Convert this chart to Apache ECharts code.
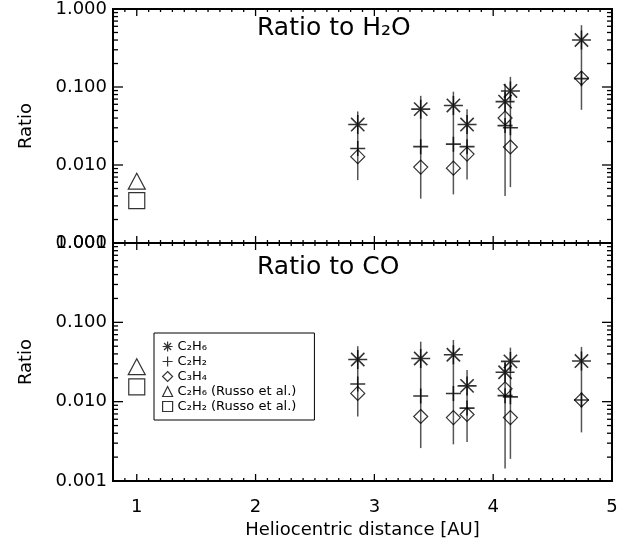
<!DOCTYPE html>
<html>
<head>
<meta charset="utf-8">
<script src="https://cdn.jsdelivr.net/npm/echarts@6/dist/echarts.min.js"></script>
<style>
  html, body { margin: 0; padding: 0; background: #fff; }
  #main { width: 622px; height: 544px; }
</style>
</head>
<body>
<div id="main"></div>
<script>
// heliocentric distances of the observations [AU]
const rh = [2.86, 3.39, 3.665, 3.78, 4.10, 4.145, 4.743];

// ratio to H2O
const h2oC2H6 = [0.033, 0.052, 0.058, 0.033, 0.065, 0.089, 0.40];
const h2oC2H2 = [0.0163, 0.0172, 0.0185, 0.0172, 0.032, 0.030, 0.128];
const h2oC3H4 = [0.0128, 0.0094, 0.0091, 0.0138, 0.040, 0.017, 0.13];
const h2oErrLo = [0.0064, 0.0037, 0.0042, 0.0065, 0.0040, 0.0052, 0.051];
const h2oErrHi = [0.0486, 0.077, 0.087, 0.052, 0.11, 0.135, 0.62];

// ratio to CO
const coC2H6 = [0.034, 0.035, 0.0390, 0.0158, 0.0235, 0.0322, 0.0325];
const coC2H2 = [0.0167, 0.0118, 0.0127, 0.0083, 0.0119, 0.0115, 0.0105];
const coC3H4 = [0.0127, 0.0065, 0.0063, 0.0069, 0.0145, 0.0063, 0.0105];
const coErrLo = [0.0065, 0.0026, 0.0029, 0.0031, 0.00144, 0.0019, 0.0041];
const coErrHi = [0.050, 0.057, 0.060, 0.025, 0.032, 0.048, 0.049];

// Russo et al. values at 1 AU
const russoX = [1.0];
const h2oRussoC2H6 = [0.0062];
const h2oRussoC2H2 = [0.0035];
const coRussoC2H6 = [0.0276];
const coRussoC2H2 = [0.0154];

const xMin = 0.8, xMax = 5;
const yMin = 0.001, yMax = 1;
const font = "'DejaVu Sans', sans-serif";

const STAR = 'path://M10,0L10,20M0,10L20,10M3,3L17,17M3,17L17,3';
const PLUS = 'path://M10,0L10,20M0,10L20,10';

const names = ['C₂H₆', 'C₂H₂', 'C₃H₄', 'C₂H₆ (Russo et al.)', 'C₂H₂ (Russo et al.)'];

function pts(xs, vals) {
  return xs.map((x, i) => [x, vals[i]]);
}

function scatter(gi, name, xs, vals, symbol, size, bw) {
  return {
    type: 'scatter', name: name, xAxisIndex: gi, yAxisIndex: gi, z: 3,
    symbol: symbol, symbolSize: size,
    itemStyle: { color: 'transparent', borderColor: '#000', borderWidth: bw },
    data: pts(xs, vals)
  };
}

function errBars(gi, lo, hi) {
  return {
    type: 'custom', xAxisIndex: gi, yAxisIndex: gi, z: 2, silent: true,
    encode: { x: 0, y: [1, 2] },
    data: rh.map((x, i) => [x, lo[i], hi[i]]),
    renderItem: function (params, api) {
      const a = api.coord([api.value(0), api.value(1)]);
      const b = api.coord([api.value(0), api.value(2)]);
      return {
        type: 'line',
        shape: { x1: a[0], y1: a[1], x2: b[0], y2: b[1] },
        style: { stroke: '#555', lineWidth: 1.5 }
      };
    }
  };
}

// inward ticks on all four sides, log minor ticks on y
function frameTicks(gi) {
  return {
    type: 'custom', xAxisIndex: gi, yAxisIndex: gi, z: 6, silent: true,
    data: [[1, 0.01]],
    renderItem: function (params, api) {
      const kids = [];
      const seg = (x1, y1, x2, y2) => ({
        type: 'line', shape: { x1: x1, y1: y1, x2: x2, y2: y2 },
        style: { stroke: '#000', lineWidth: 1.3 }
      });
      const top = api.coord([xMin, yMax])[1];
      const bot = api.coord([xMin, yMin])[1];
      const left = api.coord([xMin, yMin])[0];
      const right = api.coord([xMax, yMin])[0];
      for (let i = 8; i <= 50; i++) {
        const x = api.coord([i / 10, yMin])[0];
        const len = i % 10 === 0 ? 7 : 3;
        kids.push(seg(x, bot, x, bot - len), seg(x, top, x, top + len));
      }
      for (let d = -3; d <= 0; d++) {
        for (let m = 1; m <= 9; m++) {
          const v = m * Math.pow(10, d);
          if (v > yMax * 1.0001) break;
          const y = api.coord([xMin, v])[1];
          const len = m === 1 ? 10 : 5;
          kids.push(seg(left, y, left + len, y), seg(right, y, right - len, y));
        }
      }
      return { type: 'group', children: kids };
    }
  };
}

function panelSeries(gi, c2h6, c2h2, c3h4, lo, hi, rC2H6, rC2H2) {
  return [
    errBars(gi, lo, hi),
    scatter(gi, names[0], rh, c2h6, STAR, 19, 1.6),
    scatter(gi, names[1], rh, c2h2, PLUS, 15, 1.6),
    scatter(gi, names[2], rh, c3h4, 'diamond', [14, 14], 1.2),
    scatter(gi, names[3], russoX, rC2H6, 'triangle', [17, 16], 1.2),
    scatter(gi, names[4], russoX, rC2H2, 'rect', [16, 16], 1.2),
    frameTicks(gi)
  ];
}

const labelStyle = { fontFamily: font, fontSize: 18, color: '#000' };

function xAxis(gi, showLabels) {
  return {
    type: 'value', gridIndex: gi, min: xMin, max: xMax,
    axisLine: { show: false }, axisTick: { show: false }, splitLine: { show: false },
    axisLabel: Object.assign({
      show: showLabels, margin: 17,
      formatter: v => (Math.abs(v - Math.round(v)) < 1e-6 ? String(Math.round(v)) : '')
    }, labelStyle),
    name: showLabels ? 'Heliocentric distance [AU]' : '',
    nameLocation: 'middle', nameGap: 40,
    nameTextStyle: labelStyle
  };
}

function yAxis(gi) {
  return {
    type: 'log', logBase: 10, gridIndex: gi, min: yMin, max: yMax,
    axisLine: { show: false }, axisTick: { show: false }, splitLine: { show: false },
    minorTick: { show: false },
    axisLabel: Object.assign({ margin: 6, formatter: v => Number(v).toFixed(3) }, labelStyle),
    name: 'Ratio', nameLocation: 'middle', nameRotate: 90, nameGap: 78,
    nameTextStyle: labelStyle
  };
}

const titleStyle = { fontFamily: font, fontSize: 25, fontWeight: 'normal', color: '#000' };

const option = {
  backgroundColor: '#fff',
  animation: false,
  title: [
    { text: 'Ratio to H₂O', left: 257, top: 16, padding: 0, textStyle: titleStyle },
    { text: 'Ratio to CO', left: 257, top: 255, padding: 0, textStyle: titleStyle }
  ],
  legend: {
    orient: 'vertical', left: 154, top: 333, padding: [7, 18, 7, 8],
    borderColor: '#000', borderWidth: 1, itemGap: 2, itemWidth: 10, itemHeight: 10,
    selectedMode: false,
    itemStyle: { color: 'transparent', borderColor: '#000', borderWidth: 1.2 },
    textStyle: { fontFamily: font, fontSize: 13, lineHeight: 12, color: '#000' },
    data: [
      { name: names[0], icon: STAR },
      { name: names[1], icon: PLUS },
      { name: names[2], icon: 'diamond' },
      { name: names[3], icon: 'triangle' },
      { name: names[4], icon: 'rect' }
    ]
  },
  grid: [
    { left: 113, top: 6, width: 499, height: 237, show: true, borderColor: '#000', borderWidth: 2, backgroundColor: 'transparent' },
    { left: 113, top: 243, width: 499, height: 238, show: true, borderColor: '#000', borderWidth: 2, backgroundColor: 'transparent' }
  ],
  xAxis: [xAxis(0, false), xAxis(1, true)],
  yAxis: [yAxis(0), yAxis(1)],
  series: [].concat(
    panelSeries(0, h2oC2H6, h2oC2H2, h2oC3H4, h2oErrLo, h2oErrHi, h2oRussoC2H6, h2oRussoC2H2),
    panelSeries(1, coC2H6, coC2H2, coC3H4, coErrLo, coErrHi, coRussoC2H6, coRussoC2H2)
  )
};

const chart = echarts.init(document.getElementById('main'));
chart.setOption(option);
</script>
</body>
</html>
